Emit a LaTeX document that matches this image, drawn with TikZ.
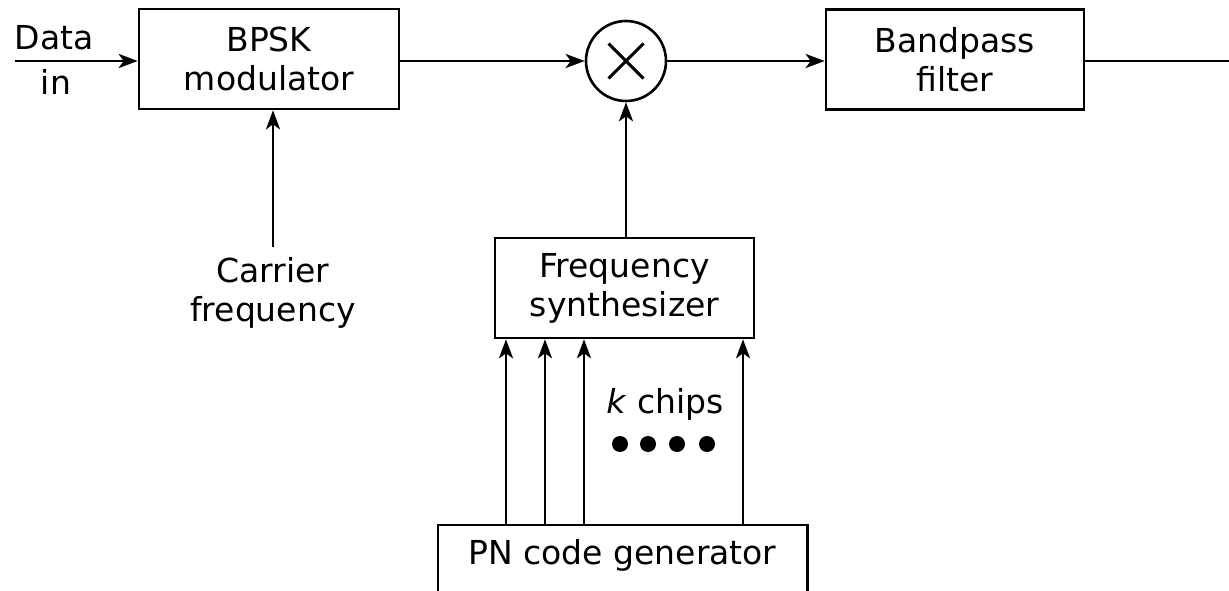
\documentclass[tikz,border=0pt]{standalone}
\usepackage{fontspec}
\setmainfont{DejaVu Sans}
\usetikzlibrary{arrows.meta}
\begin{document}
\begin{tikzpicture}[x=1pt,y=-1pt,
  every node/.style={font=\fontsize{33}{39}\selectfont},
  blk/.style={draw, line width=2.6pt, rectangle, inner sep=0pt, align=center},
  arr/.style={line width=2.6pt, -{Stealth[length=19pt,width=14pt,inset=5pt]}},
  ln/.style={line width=2.6pt},
  dot/.style={circle, fill, minimum size=16pt, inner sep=0pt}]
\useasboundingbox (0,0) rectangle (1229,591);
\clip (0,0) rectangle (1229,591);
% blocks
\node[blk, minimum width=260pt, minimum height=100pt] (bpsk) at (269,59) {BPSK\\modulator};
\node[draw, circle, line width=2.6pt, minimum size=80pt, inner sep=0pt] (mix) at (626,61) {};
\node[blk, minimum width=258pt, minimum height=100pt] (bpf) at (955,59.5) {Bandpass\\filter};
\node[blk, minimum width=259pt, minimum height=100pt] (synth) at (624.5,288) {Frequency\\synthesizer};
\node[minimum width=369pt, minimum height=60pt, anchor=north, inner sep=0pt] (pn) at (622.5,525) {PN code generator};
\draw[ln] ([yshift=-80pt]pn.north west) -- (pn.north west) -- (pn.north east) -- ([yshift=-80pt]pn.north east);
% multiplier cross
\draw[line width=3pt] ([shift={(-17.5,-17.5)}]mix.center) -- ([shift={(17.5,17.5)}]mix.center);
\draw[line width=3pt] ([shift={(-17.5,17.5)}]mix.center) -- ([shift={(17.5,-17.5)}]mix.center);
% labels
\node[anchor=base] (data) at (54,50) {Data};
\node[anchor=base] (in) at (56,95) {in};
\node[align=center, anchor=north, inner ysep=10pt] (carrier) at (273,247) {Carrier\\frequency};
\node[anchor=base] (kchips) at (665,413) {\textit{k} chips};
\foreach \x [count=\i] in {620,648,677,707} \node[dot] (d\i) at (\x,444) {};
% coordinates
\coordinate (din) at (15,61);
\coordinate (out) at (1229,61);
% connectors
\draw[arr] (din) -- (din -| bpsk.west);
\draw[arr] (bpsk.east |- mix) -- (mix.west);
\draw[arr] (mix.east) -- (mix.east -| bpf.west);
\draw[ln] (bpf.east |- mix) -- (out);
\draw[arr] (carrier.north) -- (carrier.north |- bpsk.south);
\draw[arr] (mix |- synth.north) -- (mix.south);
\foreach \x in {506,545,584,743} \draw[arr] (\x,0 |- pn.north) -- (\x,0 |- synth.south);
\end{tikzpicture}
\end{document}
